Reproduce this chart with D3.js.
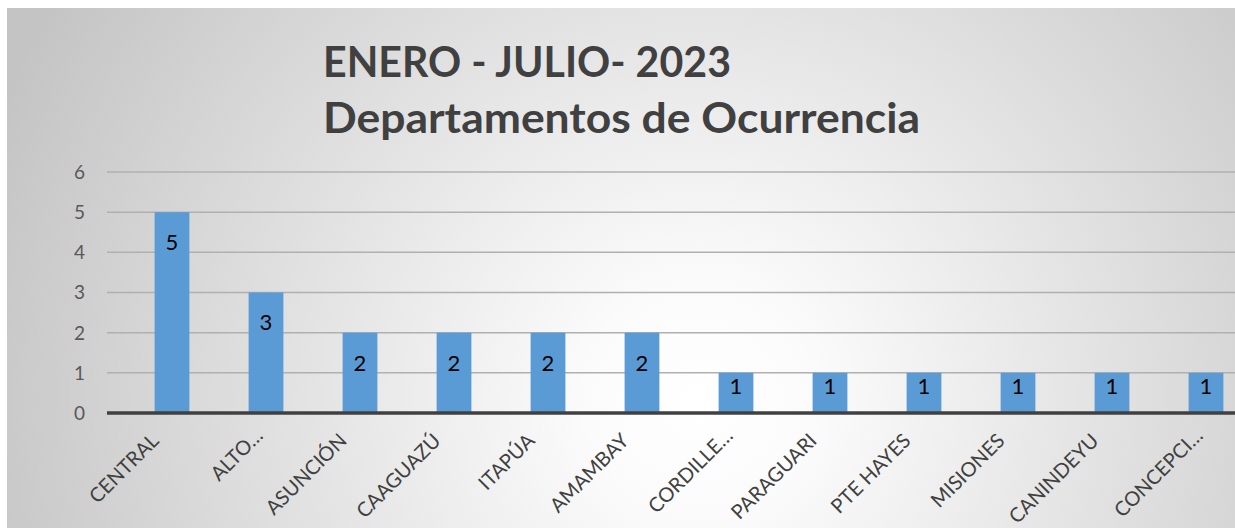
<!DOCTYPE html>
<html>
<head>
<meta charset="utf-8">
<script src="https://cdn.jsdelivr.net/npm/d3@7"></script>
<style>
  body { margin: 0; background: #fff; }
  svg text { font-family: Lato, "Open Sans", sans-serif; }
</style>
</head>
<body>
<div id="chart"></div>
<script>
var departamentos = ["CENTRAL", "ALTO…", "ASUNCIÓN", "CAAGUAZÚ", "ITAPÚA", "AMAMBAY",
  "CORDILLE…", "PARAGUARI", "PTE HAYES", "MISIONES", "CANINDEYU", "CONCEPCI…"];
var casos = [5, 3, 2, 2, 2, 2, 1, 1, 1, 1, 1, 1];
var yTicks = [0, 1, 2, 3, 4, 5, 6];
var titleLines = ["ENERO - JULIO- 2023", "Departamentos de Ocurrencia"];

var width = 1235,
  height = 528;

var svg = d3.select('#chart')
  .append('svg')
  .attr('width', width)
  .attr('height', height)

// radial background like the office chart style
var defs = svg.append('defs');
var grad = defs.append('radialGradient')
  .attr('id', 'bg')
  .attr('gradientUnits', 'userSpaceOnUse')
  .attr('cx', 700).attr('cy', 400).attr('r', 760)
grad.append('stop').attr('offset', '0%').attr('stop-color', '#ffffff')
grad.append('stop').attr('offset', '15%').attr('stop-color', '#fbfbfb')
grad.append('stop').attr('offset', '100%').attr('stop-color', '#c4c4c4')

svg.append('rect')
  .attr('x', 7).attr('y', 8)
  .attr('width', width - 7).attr('height', height - 8)
  .attr('fill', 'url(#bg)')

var x = d3.scaleBand()
  .domain(departamentos)
  .range([125, 1253])
  .paddingInner(0.63)
  .paddingOuter(0.315);

var y = d3.scaleLinear()
  .domain([0, 6])
  .range([413, 172]);

var gridLeft = 107, gridRight = width;

// gridlines
svg.append('g')
  .selectAll('line')
  .data(yTicks.filter(d => d > 0))
  .join('line')
  .attr('x1', gridLeft).attr('x2', gridRight)
  .attr('y1', d => y(d)).attr('y2', d => y(d))
  .attr('stroke', '#b0b0b0')
  .attr('stroke-width', 1.5)

// y axis labels
svg.append('g')
  .selectAll('text')
  .data(yTicks)
  .join('text')
  .attr('x', 85)
  .attr('y', d => y(d))
  .attr('dy', '0.36em')
  .attr('text-anchor', 'end')
  .attr('fill', '#595959')
  .style('font-size', '19px')
  .text(d => d)

// bars
svg.append('g')
  .selectAll('rect')
  .data(casos)
  .join('rect')
  .attr('x', (d, i) => x(departamentos[i]))
  .attr('y', d => y(d))
  .attr('width', x.bandwidth())
  .attr('height', d => y(0) - y(d))
  .attr('fill', '#5b9bd5')

// value labels
svg.append('g')
  .selectAll('text')
  .data(casos)
  .join('text')
  .attr('x', (d, i) => x(departamentos[i]) + x.bandwidth() / 2)
  .attr('y', d => y(d) + Math.min((y(0) - y(d)) / 2 - 7, 30))
  .attr('dy', '0.36em')
  .attr('text-anchor', 'middle')
  .attr('fill', '#000')
  .style('font-size', '22px')
  .text(d => d)

// baseline
svg.append('line')
  .attr('x1', gridLeft).attr('x2', gridRight)
  .attr('y1', y(0)).attr('y2', y(0))
  .attr('stroke', '#404040')
  .attr('stroke-width', 3.5)

// category labels, rotated (truncated ones sit a bit higher)
svg.append('g')
  .selectAll('text')
  .data(departamentos)
  .join('text')
  .attr('transform', d => {
    var cut = d.endsWith('…');
    var cx = x(d) + x.bandwidth() / 2 + (cut ? -2 : -12);
    return 'translate(' + cx + ',' + (cut ? 437 : 442) + ') rotate(-45)';
  })
  .attr('text-anchor', 'end')
  .attr('fill', '#404040')
  .style('font-size', '20px')
  .text(d => d)

// title
svg.append('g')
  .selectAll('text')
  .data(titleLines)
  .join('text')
  .attr('x', 323)
  .attr('y', (d, i) => 77 + i * 56)
  .attr('fill', '#404040')
  .style('font-size', '42px')
  .style('font-weight', 'bold')
  .attr('textLength', (d, i) => [408, 597][i])
  .attr('lengthAdjust', 'spacingAndGlyphs')
  .text(d => d)
</script>
</body>
</html>
